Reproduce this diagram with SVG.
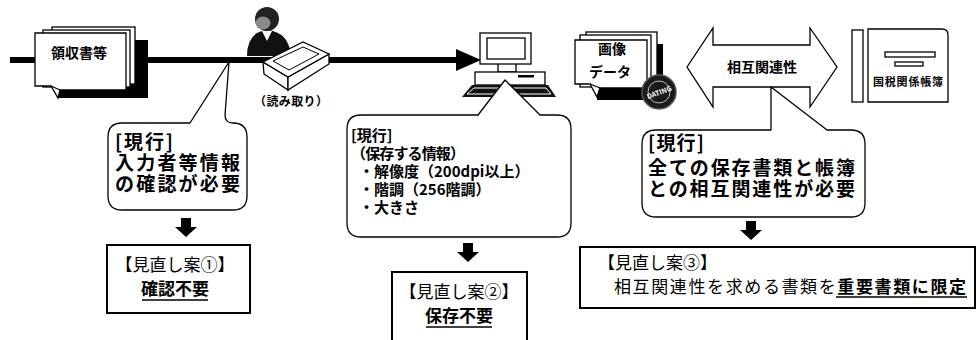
<svg xmlns="http://www.w3.org/2000/svg" width="977" height="340" viewBox="0 0 977 340">
<style>
text{font-family:"Noto Sans CJK JP","Noto Sans",sans-serif;fill:#000}
.b{font-weight:bold}
.ol{fill:#fff;stroke:#000;stroke-width:1.3}
.bubble{fill:#fff;stroke:#000;stroke-width:1.3;stroke-linejoin:round}
.box{fill:#fff;stroke:#000;stroke-width:2}
.c19{font-size:19px;font-weight:bold}
.c15{font-size:15px;font-weight:bold}
.h17{font-size:17px}
.u{stroke:#000;stroke-width:1.5}
</style>
<defs>
  <!-- thick downward arrow used between each note and its proposal -->
  <path id="down" d="M-5,0 H5 V9 H11 L0,19 L-11,9 H-5 Z" fill="#000"/>
</defs>

<!-- flow line: documents -> scanning -> computer -->
<g id="connectors">
  <rect x="10" y="57" width="448" height="6" fill="#000"/>
  <polygon points="456,49 481,60 456,71" fill="#000"/>
</g>

<!-- paper receipts -->
<g id="receipts">
  <rect x="58" y="40" width="90" height="58" fill="#000"/>
  <rect x="52" y="27" width="83" height="57" class="ol"/>
  <rect x="43" y="30" width="87" height="57" class="ol"/>
  <path d="M35,33 H126 V90 H60 L58,98 L51,86 H35 Z" class="ol"/>
  <path d="M51,86 L60,90" class="ol"/>
  <text x="79" y="58" class="b" font-size="14" text-anchor="middle">領収書等</text>
</g>

<!-- operator at the scanner -->
<g id="scanner">
  <path d="M247,56 Q247,32 267,30 Q289,32 291,56 Z" fill="#111"/>
  <polygon points="262,31 267,41 272,31" fill="#fff"/>
  <circle cx="267" cy="19" r="12" fill="#222"/>
  <ellipse cx="263" cy="23" rx="7.5" ry="6.5" fill="#8a8a8a"/>
  <polygon points="263,62 288,77 288,90 264,74" class="ol"/>
  <polygon points="288,77 329,54 329,64 288,90" class="ol"/>
  <polygon points="263,62 303,42 329,54 288,77" class="ol"/>
  <polygon points="273,61 303,47 319,54 289,70" fill="none" stroke="#000" stroke-width="1"/>
  <text x="291" y="106" class="b" font-size="12" text-anchor="middle" textLength="74">（読み取り）</text>
</g>

<!-- computer -->
<g id="computer">
  <rect x="498" y="63" width="18" height="9" class="ol"/>
  <rect x="480" y="33" width="51" height="31" class="ol" stroke-width="1.6"/>
  <rect x="487" y="38" width="38" height="21" class="ol" stroke-width="1.6"/>
  <rect x="475" y="72" width="70" height="13" class="ol" stroke-width="1.6"/>
  <rect x="518" y="75" width="16" height="2.5" fill="#000"/>
  <polygon points="472,85 548,85 556,97 462,97" fill="#111"/>
  <polygon points="474,88 546,88 551,94 467,94" fill="none" stroke="#fff" stroke-width="1"/>
</g>

<!-- scanned image data -->
<g id="image-data">
  <rect x="597" y="44" width="66" height="56" fill="#000"/>
  <rect x="586" y="32" width="71" height="52" class="ol"/>
  <rect x="580" y="35" width="71" height="52" class="ol"/>
  <path d="M575,40 H647 V88 H600 L597,97 L590,84 H575 Z" class="ol"/>
  <path d="M590,84 L600,88" class="ol"/>
  <text x="612" y="54" class="b" font-size="14" text-anchor="middle">画像</text>
  <text x="610" y="77" class="b" font-size="14" text-anchor="middle">データ</text>
  <circle cx="659" cy="92" r="17" fill="#1a1a1a" stroke="#555" stroke-width="1.5"/>
  <circle cx="659" cy="92" r="11" fill="none" stroke="#bbb" stroke-width="1"/>
  <text x="659" y="95" font-size="7" font-family="Liberation Sans" class="b" text-anchor="middle" transform="rotate(-20 659 92)" style="fill:#fff">DATING</text>
</g>

<!-- two-way arrow: mutual relation -->
<g id="mutual-link">
  <polygon points="687,67 713,28 713,45 810,45 810,28 837,67 810,107 810,87 713,87 713,107" class="ol"/>
  <text x="762" y="72" class="b" font-size="14" text-anchor="middle">相互関連性</text>
</g>

<!-- account books -->
<g id="ledger">
  <rect x="852" y="30" width="11" height="72" class="ol" stroke-width="1.6"/>
  <path d="M868,29 H942 Q948,29 948,35 V102 H868 Z" class="ol" stroke-width="1.6"/>
  <rect x="885" y="52" width="50" height="5" class="ol"/>
  <rect x="895" y="62" width="28" height="4" class="ol"/>
  <text x="908" y="86" class="b" font-size="11" text-anchor="middle" textLength="70">国税関係帳簿</text>
</g>

<!-- note 1 -->
<g id="note1">
  <path d="M122,123 H190 L229,62 L225,115 Q225,123 233,123 Q247,123 247,137 V196 Q247,210 233,210 H122 Q108,210 108,196 V137 Q108,123 122,123 Z" class="bubble"/>
  <text x="115" y="149" class="c19" textLength="58">[現行]</text>
  <text x="115" y="170" class="c19" textLength="125">入力者等情報</text>
  <text x="115" y="191" class="c19" textLength="125">の確認が必要</text>
</g>
<use href="#down" x="186" y="218"/>
<g id="proposal1">
  <rect x="107" y="245" width="143" height="68" class="box"/>
  <text x="175" y="271" class="h17" text-anchor="middle">【見直し案①】</text>
  <text x="175" y="295" class="h17 b" text-anchor="middle">確認不要</text>
  <line x1="142" y1="300" x2="208" y2="300" class="u"/>
</g>

<!-- note 2 -->
<g id="note2">
  <path d="M361,115 H478 L505,80 L540,115 H557 Q571,115 571,129 V223 Q571,237 557,237 H361 Q347,237 347,223 V129 Q347,115 361,115 Z" class="bubble"/>
  <text x="351" y="141" class="c15">[現行]</text>
  <text x="351" y="159" class="c15" textLength="114">（保存する情報）</text>
  <text x="359" y="177" class="c15">・解像度（200dpi以上）</text>
  <text x="359" y="195" class="c15">・階調（256階調）</text>
  <text x="359" y="213" class="c15">・大きさ</text>
</g>
<use href="#down" x="468" y="243"/>
<g id="proposal2">
  <rect x="392" y="272" width="135" height="80" class="box"/>
  <text x="459" y="298" class="h17" text-anchor="middle">【見直し案②】</text>
  <text x="459" y="322" class="h17 b" text-anchor="middle">保存不要</text>
  <line x1="426" y1="327" x2="492" y2="327" class="u"/>
</g>

<!-- note 3 -->
<g id="note3">
  <path d="M656,130 H771 V87 L827,130 H851 Q865,130 865,144 V203 Q865,217 851,217 H656 Q642,217 642,203 V144 Q642,130 656,130 Z" class="bubble"/>
  <text x="648" y="150" class="c19" textLength="56">[現行]</text>
  <text x="648" y="175" class="c19" textLength="207">全ての保存書類と帳簿</text>
  <text x="648" y="196" class="c19" textLength="207">との相互関連性が必要</text>
</g>
<use href="#down" x="751" y="221"/>
<g id="proposal3">
  <rect x="580" y="247" width="395" height="61" class="box"/>
  <text x="598" y="269" class="h17">【見直し案③】</text>
  <text x="614" y="293" class="h17" textLength="352">相互関連性を求める書類を<tspan class="b">重要書類に限定</tspan></text>
  <line x1="836" y1="297" x2="967" y2="297" class="u"/>
</g>
</svg>
